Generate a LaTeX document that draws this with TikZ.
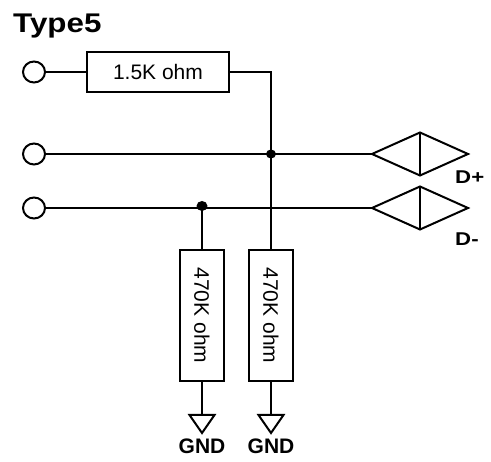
\documentclass[tikz,border=0pt]{standalone}
\usepackage{fontspec}
\setmainfont{Liberation Sans}
\usetikzlibrary{shapes.geometric, positioning, calc}

\tikzset{
  wire/.style={line width=2pt},
  term/.style={ellipse, draw, line width=2pt, minimum width=22pt, minimum height=21pt, inner sep=0pt},
  res/.style={rectangle, draw, line width=2pt, inner sep=0pt, font=\fontsize{21}{24}\selectfont},
  rx/.style={diamond, draw, line width=2pt, minimum width=96pt, minimum height=43pt, inner sep=0pt, outer sep=0pt},
  dot/.style={ellipse, fill, inner sep=0pt, minimum width=10pt, minimum height=9pt},
  lbl/.style={font=\fontsize{21}{24}\selectfont\bfseries, inner sep=0pt},
  dlbl/.style={font=\fontsize{18.5}{22}\selectfont\bfseries, inner sep=0pt, xscale=1.2}
}

\begin{document}
\begin{tikzpicture}[x=1pt, y=-1pt]
    \useasboundingbox (0,0) rectangle (491,462);
    \node[anchor=base west, inner sep=0pt, xscale=1.16, font=\fontsize{27}{30}\selectfont\bfseries] (title) at (13,32.3) {Type5};

    % input terminals
    \node[term] (t1) at (34,72) {};
    \node[term] (t2) at (34,154) {};
    \node[term] (t3) at (34,208) {};

    % resistors
    \node[res, minimum width=142pt, minimum height=40pt] (r1) at (158,72) {1.5K ohm};
    \node[res, rotate=-90, minimum width=131pt, minimum height=44pt] (r2) at (202,315.5) {470K ohm};
    \node[res, rotate=-90, minimum width=131pt, minimum height=44pt] (r3) at (271,315.5) {470K ohm};

    % receivers
    \node[rx] (rx1) at (420,154) {};
    \node[rx] (rx2) at (420,208) {};
    \node[dlbl, anchor=base west] (dp) at (455,183.5) {D+};
    \node[dlbl, anchor=base west] (dm) at (455,245.5) {D-};

    \coordinate (j2) at (r3.west |- t2);
    \coordinate (j3) at (r2.west |- t3);
    \coordinate[below=33pt of r2.east] (g2);
    \coordinate[below=33pt of r3.east] (g3);

    \draw[wire] (t1) -- (r1);
    \draw[wire] (r1.east) -| (r3.west);
    \draw[wire] (t2) -- (rx1.west);
    \draw[wire] (t3) -- (rx2.west);
    \draw[wire] (j3) -- (r2.west);
    \draw[wire] (rx1.north) -- (rx1.south);
    \draw[wire] (rx2.north) -- (rx2.south);
    \node[dot] at (j2) {};
    \node[dot, minimum width=11pt, minimum height=10pt, yshift=2pt] at (j3) {};

    % grounds
    \draw[wire] (r2.east) -- (g2);
    \draw[wire] (r3.east) -- (g3);
    \draw[wire] (g2) ++(-12.5,0) -- ++(25,0) -- ++(-12.5,18) -- cycle;
    \draw[wire] (g3) ++(-12.5,0) -- ++(25,0) -- ++(-12.5,18) -- cycle;
    \node[lbl, anchor=base] (gnd2) at ($(g2)+(0,39)$) {GND};
    \node[lbl, anchor=base] (gnd3) at ($(g3)+(0,39)$) {GND};
\end{tikzpicture}
\end{document}
